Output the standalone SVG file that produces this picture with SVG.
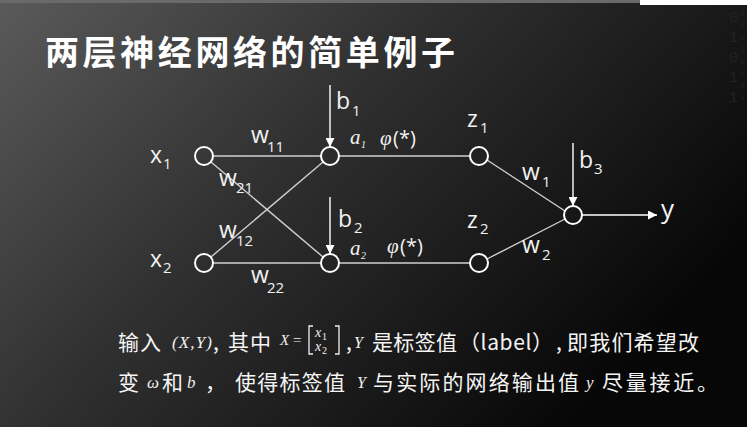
<svg xmlns="http://www.w3.org/2000/svg" width="747" height="427" viewBox="0 0 747 427">
<defs>
<linearGradient id="bg" x1="0" y1="0" x2="1" y2="0.55">
<stop offset="0" stop-color="#5a5a5a"/>
<stop offset="0.45" stop-color="#303030"/>
<stop offset="1" stop-color="#070707"/>
</linearGradient>
<marker id="ah" viewBox="0 0 10 10" refX="10" refY="5" markerWidth="9" markerHeight="9" markerUnits="userSpaceOnUse" orient="auto">
<path d="M0,0 L10,5 L0,10 Z" fill="#ffffff"/>
</marker>
<style>
.lbl{font-family:"Open Sans","Liberation Sans",sans-serif;fill:#f2f2f2;}
.big{font-size:23px;}
.sub{font-size:15px;}
.it{font-family:"Liberation Serif","DejaVu Serif",serif;font-style:italic;fill:#f2f2f2;}
.node{fill:none;stroke:#ffffff;stroke-width:2;}
.edge{stroke:#d0d0d0;stroke-width:1.4;fill:none;}
.arr{stroke:#ffffff;stroke-width:1.4;fill:none;marker-end:url(#ah);}
.cn{font-family:"Noto Sans CJK SC","Noto Sans",sans-serif;fill:#f5f5f5;font-size:21px;}
.mi{font-family:"Liberation Serif","DejaVu Serif",serif;font-style:italic;fill:#f0f0f0;}
.rm{font-family:"Liberation Serif","DejaVu Serif",serif;fill:#f0f0f0;}
</style>
</defs>
<rect width="747" height="427" fill="url(#bg)"/>
<rect x="0" y="0" width="640" height="3" fill="#6a6a6a"/>
<rect x="640" y="0" width="107" height="5" fill="#ffffff"/>
<g font-family="Liberation Mono,monospace" fill="#222222">
<text x="729" y="22" font-size="15">0</text><text x="729" y="42" font-size="15">1</text><text x="729" y="62" font-size="15">0</text><text x="729" y="82" font-size="15">1</text><text x="729" y="102" font-size="15">1</text>
<text x="740" y="16" font-size="8">0</text><text x="740" y="28" font-size="8">1</text><text x="740" y="40" font-size="8">0</text><text x="740" y="52" font-size="8">1</text><text x="740" y="64" font-size="8">0</text><text x="740" y="76" font-size="8">1</text><text x="740" y="88" font-size="8">0</text><text x="740" y="100" font-size="8">1</text>
</g>

<text x="45" y="65" font-family="Noto Sans CJK SC,sans-serif" font-weight="bold" font-size="34" fill="#ffffff" textLength="410" lengthAdjust="spacing">两层神经网络的简单例子</text>

<g id="connectors">
<line class="edge" x1="213" y1="156" x2="321" y2="156"/>
<line class="edge" x1="211" y1="162" x2="323" y2="257"/>
<line class="edge" x1="211" y1="257" x2="323" y2="162"/>
<line class="edge" x1="213" y1="263" x2="321" y2="263"/>
<line class="edge" x1="339" y1="156" x2="470" y2="156"/>
<line class="edge" x1="339" y1="263" x2="470" y2="263"/>
<line class="edge" x1="487" y1="160" x2="565" y2="211"/>
<line class="edge" x1="487" y1="259" x2="565" y2="219"/>
<line class="arr" x1="330" y1="85" x2="330" y2="147"/>
<line class="arr" x1="330" y1="197" x2="330" y2="254"/>
<line class="arr" x1="573" y1="143" x2="573" y2="206"/>
<line class="arr" x1="582" y1="215" x2="657" y2="215"/>
</g>

<g id="x1"><circle class="node" cx="204" cy="156" r="9"/>
<text class="lbl big" x="150" y="163">x</text><text class="lbl sub" x="163" y="169">1</text></g>
<g id="x2"><circle class="node" cx="204" cy="263" r="9"/>
<text class="lbl big" x="150" y="267">x</text><text class="lbl sub" x="163" y="273">2</text></g>
<g id="h1"><circle class="node" cx="330" cy="156" r="9"/>
<text class="it" x="350" y="144" font-size="21">a</text><text class="it" x="361" y="148" font-size="10">1</text>
<text class="it" x="380" y="145" font-size="21">φ</text><text class="lbl" x="393" y="145" font-size="20">(*)</text></g>
<g id="h2"><circle class="node" cx="330" cy="263" r="9"/>
<text class="it" x="350" y="255" font-size="21">a</text><text class="it" x="361" y="259" font-size="10">2</text>
<text class="it" x="387" y="253" font-size="21">φ</text><text class="lbl" x="400" y="253" font-size="20">(*)</text></g>
<g id="z1"><circle class="node" cx="479" cy="156" r="9"/>
<text class="lbl big" x="467" y="127">z</text><text class="lbl sub" x="480" y="133">1</text></g>
<g id="z2"><circle class="node" cx="479" cy="263" r="9"/>
<text class="lbl big" x="467" y="228">z</text><text class="lbl sub" x="480" y="234">2</text></g>
<g id="out"><circle class="node" cx="573" cy="215" r="9"/>
<text class="lbl" x="661" y="218" font-size="26">y</text></g>

<g id="labels">
<text class="lbl big" x="336" y="109">b</text><text class="lbl sub" x="352" y="116">1</text>
<text class="lbl big" x="338" y="227">b</text><text class="lbl sub" x="354" y="233">2</text>
<text class="lbl big" x="579" y="168">b</text><text class="lbl sub" x="594" y="174">3</text>
<text class="lbl big" x="251" y="143">w</text><text class="lbl sub" x="267" y="152">11</text>
<text class="lbl big" x="219" y="186">w</text><text class="lbl sub" x="236" y="193">21</text>
<text class="lbl big" x="219" y="238">w</text><text class="lbl sub" x="236" y="246">12</text>
<text class="lbl big" x="251" y="283">w</text><text class="lbl sub" x="267" y="293">22</text>
<text class="lbl big" x="522" y="180">w</text><text class="lbl sub" x="542" y="187">1</text>
<text class="lbl big" x="522" y="253">w</text><text class="lbl sub" x="542" y="260">2</text>
</g>

<g id="caption">
<text class="cn" x="118" y="350" textLength="43" lengthAdjust="spacing">输入</text>
<text class="mi" x="172" y="348" font-size="17" textLength="40" lengthAdjust="spacing">(X,Y)</text>
<text class="cn" x="213" y="350">,</text>
<text class="cn" x="228" y="350" textLength="43" lengthAdjust="spacing">其中</text>
<text class="mi" x="280" y="345" font-size="15">X</text>
<text class="rm" x="293" y="345" font-size="15">=</text>
<path d="M313,326 L309,326 L309,354 L313,354 M335,326 L339,326 L339,354 L335,354" stroke="#f0f0f0" stroke-width="1.3" fill="none"/>
<text class="mi" x="315" y="337" font-size="14">x</text><text class="rm" x="322" y="340" font-size="10">1</text>
<text class="mi" x="315" y="351" font-size="14">x</text><text class="rm" x="322" y="354" font-size="10">2</text>
<text class="cn" x="346" y="350">,</text>
<text class="mi" x="354" y="348" font-size="16">Y</text>
<text class="cn" x="372" y="350" textLength="85" lengthAdjust="spacing">是标签值</text>
<text class="cn" x="459" y="350" textLength="94" lengthAdjust="spacing">（label）</text>
<text class="cn" x="556" y="350">,</text>
<text class="cn" x="567" y="350" textLength="132" lengthAdjust="spacing">即我们希望改</text>

<text class="cn" x="118" y="390">变</text>
<text class="mi" x="147" y="388" font-size="17">ω</text>
<text class="cn" x="162" y="390">和</text>
<text class="mi" x="187" y="388" font-size="17">b</text>
<text class="cn" x="205" y="390">，</text>
<text class="cn" x="235" y="390" textLength="110" lengthAdjust="spacing">使得标签值</text>
<text class="mi" x="357" y="388" font-size="16">Y</text>
<text class="cn" x="373" y="390" textLength="206" lengthAdjust="spacing">与实际的网络输出值</text>
<text class="mi" x="586" y="388" font-size="17">y</text>
<text class="cn" x="602" y="390" textLength="116" lengthAdjust="spacing">尽量接近。</text>
</g>
</svg>
